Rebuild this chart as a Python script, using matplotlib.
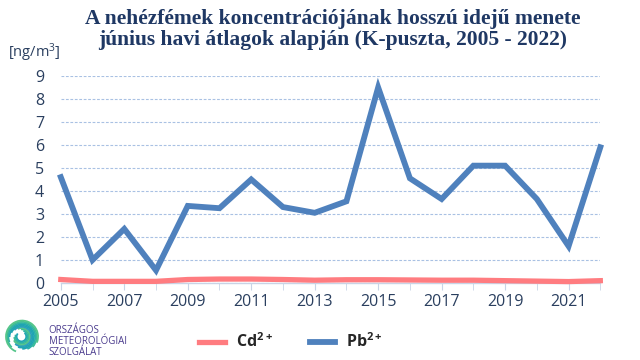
import numpy as np
import matplotlib
matplotlib.use("Agg")
import matplotlib.pyplot as plt
from matplotlib.patches import Arc

plt.rcParams["mathtext.default"] = "regular"

years = list(range(2005, 2023))
cd = [0.15, 0.07, 0.07, 0.07, 0.15, 0.17, 0.17, 0.15, 0.12, 0.14, 0.14, 0.13, 0.12, 0.12, 0.10, 0.08, 0.06, 0.10]
pb = [4.6, 1.0, 2.35, 0.55, 3.35, 3.25, 4.5, 3.3, 3.05, 3.55, 8.5, 4.55, 3.65, 5.1, 5.1, 3.65, 1.6, 5.9]
xtick_labels = [str(y) for y in range(2005, 2023, 2)]
yticks = list(range(0, 10))

title = "A nehézfémek koncentrációjának hosszú idejű menete\njúnius havi átlagok alapján (K-puszta, 2005 - 2022)"

navy = "#1F3864"
tickc = "#2A3F5F"

fig = plt.figure(figsize=(6.4, 3.6), dpi=100)
ax = fig.add_axes([0.095, 0.214, 0.843, 0.575])

ax.plot(years, cd, color="#FF7C80", lw=3.8, solid_joinstyle="miter", label="Cd$^{2+}$", clip_on=False, zorder=3)
ax.plot(years, pb, color="#4F81BD", lw=4.2, solid_joinstyle="miter", label="Pb$^{2+}$", clip_on=False, zorder=4)

ax.set_xlim(2005, 2022)
ax.set_ylim(0, 9)
ax.set_yticks(yticks)
ax.set_xticks(range(2005, 2023, 2))
ax.set_xticklabels(xtick_labels)
ax.set_xticks(years, minor=True)
ax.grid(axis="y", color="#A9C1E3", ls=(0, (2.5, 1.5)), lw=0.8)
ax.set_axisbelow(True)
for s in ["left", "right", "top"]:
    ax.spines[s].set_visible(False)
ax.spines["bottom"].set_color("#C8D4E6")
ax.spines["bottom"].set_linewidth(1.0)
ax.tick_params(axis="y", length=0, labelsize=11.5, labelcolor=tickc, pad=12)
ax.tick_params(axis="x", which="both", length=5, color="#C8D4E6", direction="out")
ax.tick_params(axis="x", which="major", labelsize=11.5, labelcolor=tickc, pad=3)
for lab in ax.get_xticklabels() + ax.get_yticklabels():
    lab.set_fontfamily("Open Sans")

fig.text(0.52, 0.975, title, ha="center", va="top", fontsize=15.5, fontweight="bold",
         family="Liberation Serif", color=navy, linespacing=1.05)
fig.text(0.053, 0.855, "[ng/m$^3$]", ha="center", va="center", fontsize=10.5, color=tickc, family="Open Sans")

leg = fig.legend(loc="center", bbox_to_anchor=(0.455, 0.05), ncol=2, frameon=False,
                 handlelength=1.6, columnspacing=2.3, handletextpad=0.7,
                 prop={"family": ["Open Sans", "DejaVu Sans"], "weight": "bold", "size": 11.5})
for t in leg.get_texts():
    t.set_color("#262626")

# logo
lax = fig.add_axes([0.006, 0.0, 0.055, 0.13])
lax.set_aspect("equal")
lax.set_xlim(-1.1, 1.1)
lax.set_ylim(-1.1, 1.1)
lax.axis("off")
cols = ["#1FA3B5", "#2BB0A8", "#3CBB9A", "#55C58A", "#2E9FC0", "#22A6B0"]
for i, r in enumerate(np.linspace(0.3, 1.0, 10)):
    th1 = 140 + i * 22
    lax.add_patch(Arc((0.04 * i / 10, 0), 2 * r, 2 * r, theta1=th1, theta2=th1 + 270,
                      color=cols[i % len(cols)], lw=1.3))
fig.text(0.076, 0.052, "ORSZÁGOS\nMETEOROLÓGIAI\nSZOLGÁLAT", ha="left", va="center",
         fontsize=7, color="#4B3C8E", family="Open Sans", linespacing=1.0)

fig.savefig("out.png", dpi=100)
